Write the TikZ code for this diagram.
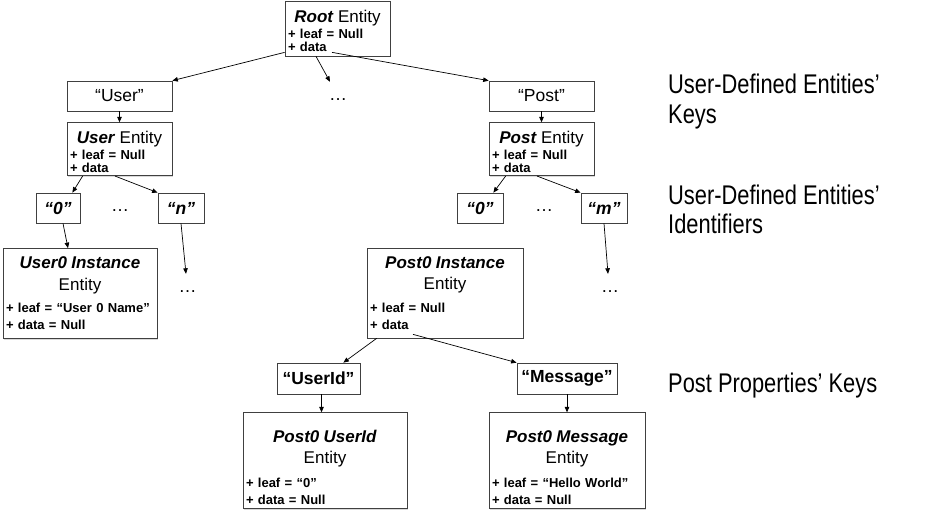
\documentclass[tikz,border=0pt]{standalone}
\usepackage{fontspec}
\setmainfont{Liberation Sans}
\newfontfamily\layerfont[FakeStretch=0.81]{Liberation Sans}
\usetikzlibrary{arrows.meta,positioning,shadows}
\newcommand{\ehead}[2][0pt]{\raisebox{0pt}[\height][0pt]{\makebox[\linewidth]{\rule{0pt}{#1}\mdseries\fontsize{17}{17}\selectfont #2}}}

\begin{document}
\begin{tikzpicture}[
    x=1pt, y=-1pt,
    every node/.style={inner sep=0pt},
    framed/.style={draw=black!75, line width=0.7pt, fill=white, drop shadow={shadow xshift=1.2pt, shadow yshift=-1.2pt, opacity=0.3}},
    keybox/.style={framed, minimum width=#1, minimum height=30pt, font=\fontsize{17.5}{17.5}\selectfont},
    entity/.style={framed, text width=#1, inner xsep=3pt, inner ysep=2pt, align=left, minimum height=53pt, font=\fontsize{13}{12.7}\selectfont\bfseries},
    instance/.style={framed, text width=#1, inner xsep=3pt, inner ysep=2pt, align=left, minimum height=90pt, font=\fontsize{13}{17}\selectfont\bfseries},
    more/.style={minimum height=36pt, font=\fontsize{18}{18}\selectfont},
    layer/.style={anchor=north west, align=left, font=\layerfont\fontsize{27}{29.5}\selectfont},
    flow/.style={-{Triangle[length=5.5pt,width=4.5pt]}, line width=0.7pt}
]
\useasboundingbox (0,0) rectangle (950,514);
\node[entity=99pt, minimum height=55pt] (root) at (337.5,28.5) {\ehead[17.4pt]{\textbf{\textit{Root}} Entity}\\[3.6pt] + leaf = Null\\ + data};
\node[keybox=105pt] (ukey) at (119.5,96) {“User”};
\node[more] (rdots) at (338,100) {…};
\node[keybox=105pt] (pkey) at (541.5,96) {“Post”};
\node[entity=99pt, below=11pt of ukey] (uent) {\ehead[17.4pt]{\textbf{\textit{User}} Entity}\\[3.6pt] + leaf = Null\\ + data};
\node[entity=99pt, below=11pt of pkey] (pent) {\ehead[17.4pt]{\textbf{\textit{Post}} Entity}\\[3.6pt] + leaf = Null\\ + data};
\node[keybox=44pt] (uid0) at (58,208) {\textbf{\textit{“0”}}};
\node[more] (udots) at (120,211) {…};
\node[keybox=46pt] (uidn) at (181,208) {\textbf{\textit{“n”}}};
\node[keybox=46pt] (pid0) at (480,208) {\textbf{\textit{“0”}}};
\node[more] (pdots) at (544,211) {…};
\node[keybox=46pt] (pidm) at (604,208) {\textbf{\textit{“m”}}};
\node[instance=148pt] (uinst) at (80,293.5) {\ehead{\textbf{\textit{User0 Instance}}}\\[4.5pt]\ehead{Entity}\\[5.5pt] + leaf = “User 0 Name”\\ + data = Null};
\node[more] (ndots) at (187.5,292) {…};
\node[instance=150pt] (pinst) at (445,293) {\ehead{\textbf{\textit{Post0 Instance}}}\\[4.5pt]\ehead{Entity}\\[5.5pt] + leaf = Null\\ + data};
\node[more] (mdots) at (610,292) {…};
\node[keybox=83pt, minimum height=31pt] (uidkey) at (318.5,378.5) {\textbf{“UserId”}};
\node[keybox=100pt, minimum height=31pt] (msgkey) at (567,378.5) {\textbf{“Message”}};
\node[instance=158pt, minimum height=96pt, below=18pt of uidkey, xshift=6.5pt] (puid) {\ehead[25pt]{\textbf{\textit{Post0 UserId}}}\\[4.6pt]\ehead{Entity}\\[6.4pt] + leaf = “0”\\ + data = Null};
\node[instance=150pt, minimum height=96pt, below=18pt of msgkey] (pmsg) {\ehead[25pt]{\textbf{\textit{Post0 Message}}}\\[4.6pt]\ehead{Entity}\\[6.4pt] + leaf = “Hello World”\\ + data = Null};
\node[layer] (keys) at (668,74) {User-Defined Entities’\\Keys};
\node[layer] (ids) at (668,184.5) {User-Defined Entities’\\Identifiers};
\node[layer] (props) at (668,373) {Post Properties’ Keys};
\draw[flow] ([yshift=4pt]root.south west) -- (ukey.north east);
\draw[flow] ([xshift=-21.5pt]root.south) -- ([xshift=-8pt]rdots.north);
\draw[flow] ([xshift=-5.5pt,yshift=4pt]root.south) -- (pkey.north west);
\draw[flow] (ukey) -- (uent);
\draw[flow] (pkey) -- (pent);
\draw[flow] ([xshift=16pt]uent.south west) -- ([xshift=-8pt]uid0.north east);
\draw[flow] ([xshift=-4.5pt]uent.south) -- (uidn.north west);
\draw[flow] ([xshift=17pt]pent.south west) -- ([xshift=-10pt]pid0.north east);
\draw[flow] ([xshift=-4.5pt]pent.south) -- (pidm.north west);
\draw[flow] ([xshift=5pt]uid0.south) -- ([xshift=-12pt]uinst.north);
\draw[flow] (uidn.south) -- ([xshift=-1.5pt]ndots.north);
\draw[flow] (pidm.south) -- ([xshift=-2pt]mdots.north);
\draw[flow] ([xshift=10pt]pinst.south west) -- ([xshift=-17pt]uidkey.north east);
\draw[flow] ([xshift=-32pt,yshift=4pt]pinst.south) -- (msgkey.north west);
\draw[flow] ([xshift=3pt]uidkey.south) -- ([xshift=-3.5pt]puid.north);
\draw[flow] (msgkey) -- (pmsg);
\end{tikzpicture}
\end{document}
